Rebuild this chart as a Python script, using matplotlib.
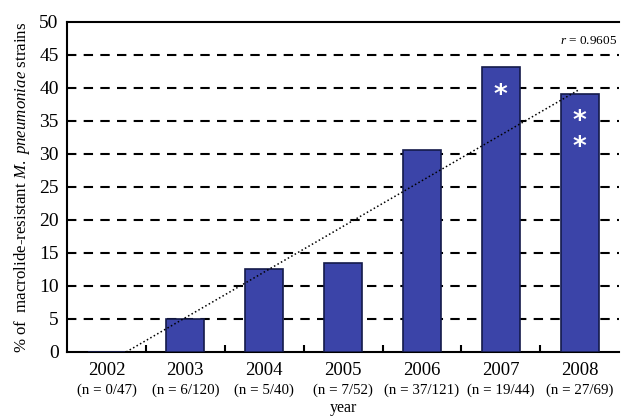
import numpy as np
import matplotlib
matplotlib.use("Agg")
import matplotlib.pyplot as plt
import matplotlib.transforms as mtransforms

plt.rcParams["font.family"] = ["Liberation Serif", "DejaVu Serif"]
plt.rcParams["mathtext.fontset"] = "custom"
plt.rcParams["mathtext.rm"] = "Liberation Serif"
plt.rcParams["mathtext.it"] = "Liberation Serif:italic"

years = ["2002", "2003", "2004", "2005", "2006", "2007", "2008"]
counts = ["(n = 0/47)", "(n = 6/120)", "(n = 5/40)", "(n = 7/52)",
          "(n = 37/121)", "(n = 19/44)", "(n = 27/69)"]
resistant = [0, 6, 5, 7, 37, 19, 27]
tested = [47, 120, 40, 52, 121, 44, 69]
pct = [100.0 * r / n for r, n in zip(resistant, tested)]

# dotted trend line, end points
trend_x = [0.25, 6.0]
trend_y = [0.0, 39.8]

# significance marks: (bar index, height)
stars_x = [5, 6, 6]
stars_y = [38.8, 34.8, 30.9]

BAR = "#3b44a8"
EDGE = "#141a4a"

fig = plt.figure(figsize=(6.21, 4.19), dpi=100)
ax = fig.add_axes([0.108, 0.16, 0.889, 0.7875])
x = np.arange(len(years))

ax.bar(x, pct, 0.48, color=BAR, edgecolor=EDGE, linewidth=1.2, zorder=3)
for v in range(5, 50, 5):
    ax.axhline(v, color="black", lw=1.5, ls=(0, (4.5, 3.5)), zorder=1)
ax.plot(trend_x, trend_y, color="black", lw=1.1, ls=(0, (1, 1.6)), zorder=4)
for sx, sy in zip(stars_x, stars_y):
    ax.text(sx, sy, "*", color="white", fontsize=19, ha="center", va="center",
            family="DejaVu Sans", fontweight="bold", zorder=5)

ax.text(6.48, 46.2, r"$\mathit{r}$ = 0.9605", ha="right", va="bottom", fontsize=9.5)

ax.set_xlim(-0.5, 6.5)
ax.set_ylim(0, 50)
ax.set_yticks(range(0, 51, 5))
ax.tick_params(axis="y", length=0, labelsize=14, pad=6)
ax.set_xticks(x)
ax.set_xticklabels(years, fontsize=13.5)
ax.tick_params(axis="x", length=0, pad=7)
ax.set_xticks(x[:-1] + 0.5, minor=True)
ax.tick_params(axis="x", which="minor", direction="in", length=5, width=1.5)

trans = mtransforms.blended_transform_factory(ax.transData, ax.transAxes)
for xi, c in zip(x, counts):
    ax.text(xi, -0.115, c, transform=trans, ha="center", va="center", fontsize=10.8)

ax.text(0.5, -0.183, "year", transform=ax.transAxes, ha="center", va="baseline",
        fontsize=11.5)
ax.set_ylabel(r"% of  macrolide-resistant $\mathit{M.\ pneumoniae}$ strains",
              fontsize=12.2, labelpad=5)

for s in ["left", "bottom", "top"]:
    ax.spines[s].set_linewidth(1.5)
ax.spines["right"].set_visible(False)

fig.savefig("out.png", dpi=100)
